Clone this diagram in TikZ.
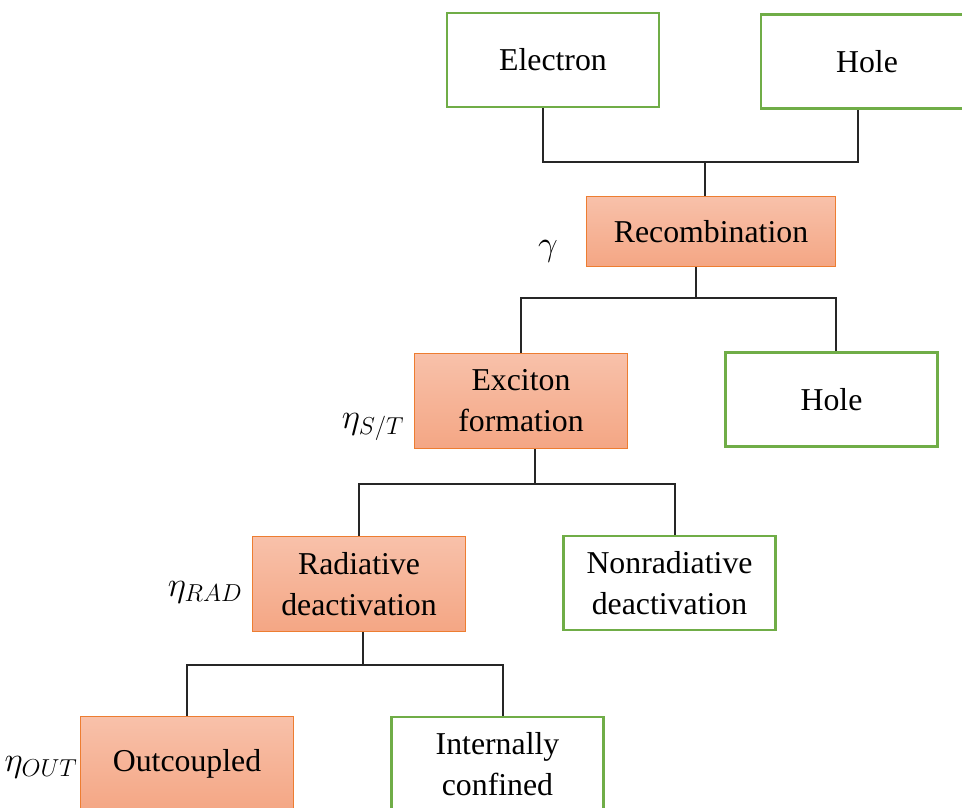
\RequirePackage{fix-cm}
\documentclass[tikz,border=0pt]{standalone}
\usepackage{fontspec}
\setmainfont{Liberation Serif}
\usetikzlibrary{positioning, calc}

\definecolor{boxgreen}{HTML}{70AD47}
\definecolor{boxorange}{HTML}{ED7D31}
\definecolor{orangetop}{RGB}{248,193,170}
\definecolor{orangebot}{RGB}{244,166,132}

\begin{document}
\begin{tikzpicture}[x=1pt, y=-1pt,
  every node/.style={font=\fontsize{31.8}{41}\selectfont},
  carrier/.style={draw=boxgreen, line width=2.8pt, fill=white, align=center,
    minimum width=212pt, minimum height=94pt, inner sep=0pt},
  process/.style={draw=boxorange, line width=1.2pt, top color=orangetop,
    bottom color=orangebot, align=center, minimum width=213pt,
    minimum height=95pt, inner sep=0pt},
  link/.style={draw=black!85, line width=1.3pt},
  eff/.style={anchor=base, font=\fontsize{35}{40}\selectfont}]
\clip (0,0) rectangle (962,807);

% Charge carriers
\node[carrier] (elec) at (553,60) {Electron};
\node[carrier] (hole1) at (867,61.5) {Hole};

% Recombination
\node[process, minimum width=249pt, minimum height=70pt] (recomb) at (711,231.5) {Recombination};
\node[eff] (gamma) at (548,255) {$\gamma$};

% Exciton formation
\node[process] (exciton) at (521,401) {Exciton\\formation};
\node[carrier] (hole2) at (831.5,399.5) {Hole};
\node[eff] (etaST) at (373,428) {$\eta_{S/T}$};

% Deactivation
\node[process] (rad) at (359,584) {Radiative\\deactivation};
\node[carrier] (nonrad) at (669.5,583) {Nonradiative\\deactivation};
\node[eff] (etaRAD) at (205,596) {$\eta_{RAD}$};

% Light output
\node[process] (out) at (187,764) {Outcoupled};
\node[carrier] (intern) at (497.5,764) {Internally\\confined};
\node[eff] (etaOUT) at (41,771) {$\eta_{OUT}$};

% Connectors
\coordinate (bus1) at (705,162);
\draw[link] ([xshift=-10pt]elec.south) |- (bus1) -| ([xshift=-9pt]hole1.south);
\draw[link] (bus1) -- (bus1 |- recomb.north);

\coordinate (bus2) at (696,298);
\draw[link] (recomb.south -| bus2) -- (bus2);
\draw[link] (exciton.north) |- (bus2) -| ([xshift=4.5pt]hole2.north);

\coordinate (bus3) at (535,484);
\draw[link] (exciton.south -| bus3) -- (bus3);
\draw[link] (rad.north) |- (bus3) -| ([xshift=5.5pt]nonrad.north);

\coordinate (bus4) at (363,665);
\draw[link] (rad.south -| bus4) -- (bus4);
\draw[link] (out.north) |- (bus4) -| ([xshift=5.5pt]intern.north);
\end{tikzpicture}
\end{document}
